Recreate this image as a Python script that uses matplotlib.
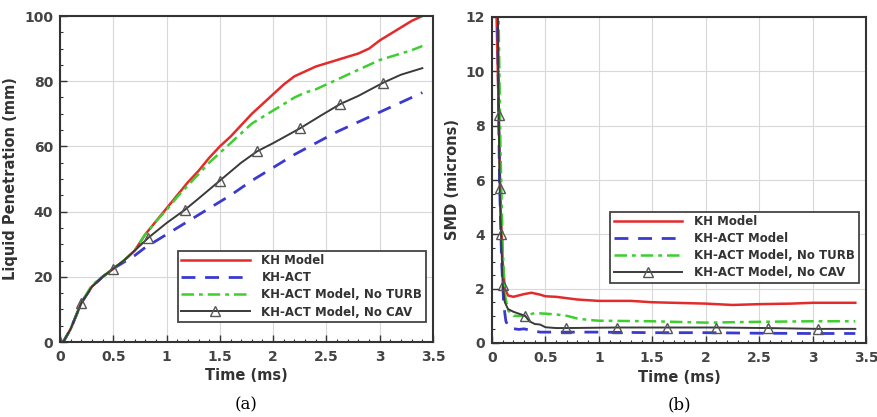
import matplotlib
matplotlib.use("Agg")
import matplotlib.pyplot as plt
from matplotlib.ticker import MultipleLocator, FormatStrFormatter

# ---------------- Data (a) Liquid penetration ----------------
t_a_kh = [0, 0.03, 0.1, 0.2, 0.3, 0.4, 0.5, 0.6, 0.7, 0.8, 0.9, 1.0, 1.1, 1.2, 1.3, 1.4, 1.5,
          1.6, 1.7, 1.8, 1.9, 2.0, 2.1, 2.2, 2.3, 2.4, 2.5, 2.6, 2.7, 2.8, 2.9, 3.0, 3.1, 3.2, 3.3, 3.4]
pen_kh = [0, 0, 4, 12, 17, 20, 22.5, 25, 28, 33, 37, 41, 45, 49, 52.5, 56.5, 60,
          63, 66.5, 70, 73, 76, 79, 81.5, 83, 84.5, 85.5, 86.5, 87.5, 88.5, 90, 92.5, 94.5, 96.5, 98.5, 100]

t_a_act = [0, 0.03, 0.1, 0.2, 0.3, 0.4, 0.5, 0.6, 0.7, 0.8, 0.9, 1.0, 1.2, 1.4, 1.6, 1.8,
           2.0, 2.2, 2.4, 2.6, 2.8, 3.0, 3.2, 3.4]
pen_act = [0, 0, 4, 12, 17, 20, 22.5, 24.5, 26.5, 29, 31, 33, 37, 41, 45, 49.5,
           53.5, 57.5, 61, 64.5, 67.5, 70.5, 73.5, 76.5]

t_a_noturb = [0, 0.03, 0.1, 0.2, 0.3, 0.4, 0.5, 0.6, 0.7, 0.8, 0.9, 1.0, 1.1, 1.2, 1.3, 1.4, 1.5,
              1.6, 1.7, 1.8, 1.9, 2.0, 2.1, 2.2, 2.3, 2.4, 2.5, 2.6, 2.7, 2.8, 2.9, 3.0, 3.1, 3.2, 3.3, 3.4]
pen_noturb = [0, 0, 4, 12, 17.5, 20, 22.5, 25, 28, 33, 37, 40.5, 44.5, 48, 51.5, 55, 58,
              61, 64, 67, 69, 71, 73, 75, 76.5, 77.5, 79, 80.5, 82, 83.5, 85, 86.5, 87.5, 88.5, 89.5, 90.8]

t_a_nocav = [0, 0.03, 0.1, 0.2, 0.3, 0.4, 0.5, 0.6, 0.7, 0.83, 1.0, 1.17, 1.3, 1.5, 1.7, 1.85,
             2.0, 2.25, 2.45, 2.63, 2.8, 3.03, 3.2, 3.4]
pen_nocav = [0, 0, 4, 12, 17, 20, 22.5, 25, 28, 32, 36.5, 40.5, 44, 49.5, 55, 58.5,
             61, 65.5, 69.5, 73, 75.5, 79.5, 82, 84]
mark_a = [0, 3, 6, 9, 11, 13, 15, 17, 19, 21]

# ---------------- Data (b) SMD ----------------
t_b_kh = [0.04, 0.06, 0.08, 0.1, 0.12, 0.15, 0.2, 0.3, 0.37, 0.45, 0.5, 0.6, 0.7, 0.8, 1.0,
          1.3, 1.5, 1.8, 2.0, 2.25, 2.5, 2.8, 3.0, 3.4]
smd_kh = [12.5, 9, 5, 3, 2, 1.75, 1.7, 1.8, 1.85, 1.78, 1.72, 1.7, 1.65, 1.6, 1.55,
          1.55, 1.5, 1.47, 1.45, 1.4, 1.43, 1.45, 1.48, 1.48]

t_b_act = [0.05, 0.07, 0.09, 0.11, 0.13, 0.16, 0.25, 0.3, 0.45, 0.6, 1.0, 1.5, 2.0, 2.5, 3.0, 3.4]
smd_act = [12.5, 6, 3, 1.4, 0.8, 0.55, 0.5, 0.52, 0.4, 0.4, 0.4, 0.38, 0.38, 0.36, 0.35, 0.35]

t_b_noturb = [0.06, 0.08, 0.1, 0.12, 0.15, 0.2, 0.3, 0.4, 0.5, 0.6, 0.7, 0.8, 0.9, 1.0,
              1.5, 2.0, 2.5, 3.0, 3.4]
smd_noturb = [12.5, 7, 3.5, 1.8, 1.2, 1.0, 1.0, 1.1, 1.08, 1.05, 1.0, 0.9, 0.85, 0.82,
              0.8, 0.75, 0.78, 0.8, 0.8]

t_b_nocav = [0.055, 0.063, 0.072, 0.085, 0.1, 0.12, 0.15, 0.2, 0.31, 0.35, 0.4, 0.45, 0.5,
             0.6, 0.69, 1.17, 1.64, 2.1, 2.58, 3.05, 3.4]
smd_nocav = [12.5, 8.4, 5.7, 4.0, 2.15, 1.5, 1.25, 1.15, 1.0, 0.8, 0.7, 0.68, 0.58,
             0.55, 0.55, 0.57, 0.57, 0.57, 0.55, 0.52, 0.52]
mark_b = [1, 2, 3, 4, 8, 14, 15, 16, 17, 18, 19]

labels_a = ["KH Model", "KH-ACT", "KH-ACT Model, No TURB", "KH-ACT Model, No CAV"]
labels_b = ["KH Model", "KH-ACT Model", "KH-ACT Model, No TURB", "KH-ACT Model, No CAV"]

RED = "#e32b2b"
BLUE = "#3a3ad0"
GREEN = "#3ccf2e"
BLACK = "#3a3a3a"

fig = plt.figure(figsize=(8.77, 4.17), dpi=100)
ax1 = fig.add_axes([60/877, 1-342/417, 373/877, 326/417])
ax2 = fig.add_axes([492/877, 1-343/417, 374/877, 326/417])


def style_axis(ax, ymax, ymajor, yminor):
    ax.set_xlim(0, 3.5)
    ax.set_ylim(0, ymax)
    ax.xaxis.set_major_locator(MultipleLocator(0.5))
    ax.xaxis.set_minor_locator(MultipleLocator(0.1))
    ax.xaxis.set_major_formatter(FormatStrFormatter("%g"))
    ax.yaxis.set_major_locator(MultipleLocator(ymajor))
    ax.yaxis.set_minor_locator(MultipleLocator(yminor))
    ax.yaxis.set_major_formatter(FormatStrFormatter("%g"))
    ax.grid(True, which="major", color="#d8d8d8", linewidth=0.8)
    ax.set_axisbelow(True)
    ax.tick_params(which="both", direction="in", colors="#333333", labelcolor="#444444")
    ax.tick_params(which="major", length=5, width=1.0, labelsize=10)
    ax.tick_params(axis="x", which="major", pad=6)
    ax.tick_params(axis="y", which="major", pad=5)
    ax.tick_params(which="minor", length=2.5, width=0.8)
    for lbl in ax.get_xticklabels() + ax.get_yticklabels():
        lbl.set_fontweight("semibold")
    for s in ax.spines.values():
        s.set_linewidth(1.5)
        s.set_color("#333333")
    ax.set_xlabel("Time (ms)", fontsize=10.5, fontweight="bold", color="#333333", labelpad=3)


def draw(ax, data, labels, marks, lg_anchor):
    (tk, yk), (ta, ya), (tn, yn), (tc, yc) = data
    ax.plot(tk, yk, color=RED, lw=1.8, label=labels[0])
    ax.plot(ta, ya, color=BLUE, lw=2.0, dashes=(5, 3.5), label=labels[1])
    ax.plot(tn, yn, color=GREEN, lw=1.8, dashes=(5, 2, 1.5, 2), label=labels[2])
    ax.plot(tc, yc, color=BLACK, lw=1.4, marker="^", markevery=marks, markersize=7,
            markerfacecolor="none", markeredgecolor="#555555", markeredgewidth=1.0,
            label=labels[3])
    lg = ax.legend(loc="lower right", bbox_to_anchor=lg_anchor, fancybox=False,
                   framealpha=1, edgecolor="#444444", handlelength=5.8,
                   handletextpad=1.0, labelspacing=0.35, borderpad=0.3,
                   borderaxespad=0, prop={"weight": "bold", "size": 8.5})
    lg.get_frame().set_linewidth(1.3)
    for txt in lg.get_texts():
        txt.set_color("#333333")


style_axis(ax1, 100, 20, 5)
draw(ax1, [(t_a_kh, pen_kh), (t_a_act, pen_act), (t_a_noturb, pen_noturb),
           (t_a_nocav, pen_nocav)], labels_a, mark_a, (0.981, 0.061))
ax1.set_ylabel("Liquid Penetration (mm)", fontsize=10.5, fontweight="bold", color="#333333")

style_axis(ax2, 12, 2, 0.5)
draw(ax2, [(t_b_kh, smd_kh), (t_b_act, smd_act), (t_b_noturb, smd_noturb),
           (t_b_nocav, smd_nocav)], labels_b, mark_b, (0.98, 0.184))
ax2.set_ylabel("SMD (microns)", fontsize=10.5, fontweight="bold", color="#333333")

fig.text((60 + 433) / 2 / 877, 1 - 405/417, "(a)", ha="center", va="center",
         fontsize=12, family="DejaVu Serif")
fig.text((492 + 866) / 2 / 877, 1 - 405/417, "(b)", ha="center", va="center",
         fontsize=12, family="DejaVu Serif")

fig.savefig("out.png", dpi=100)
